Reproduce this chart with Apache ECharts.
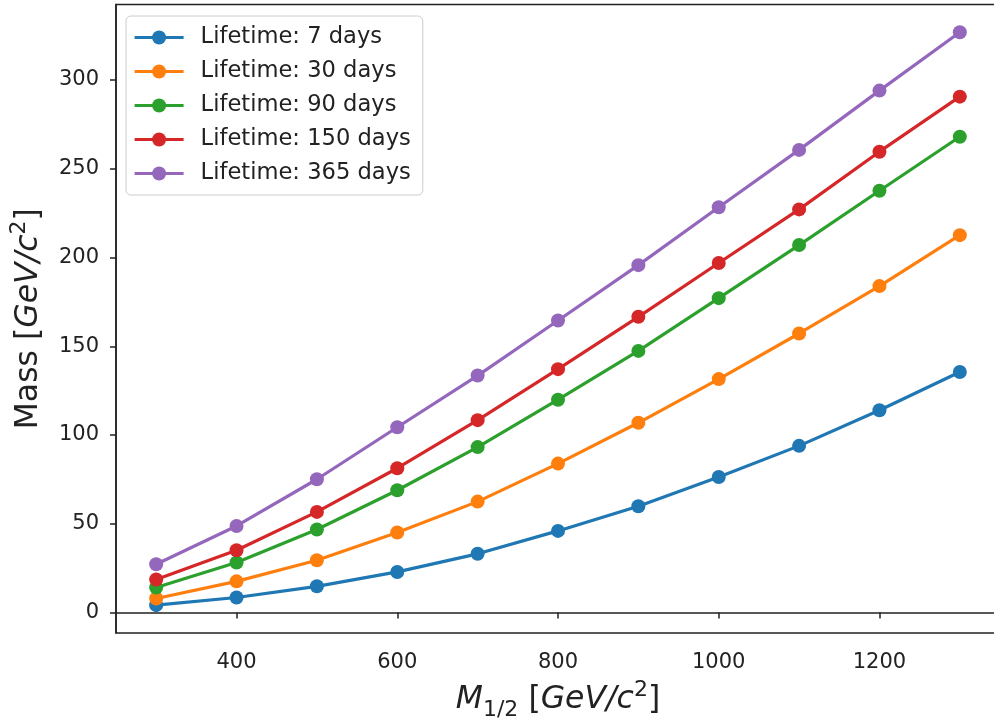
<!DOCTYPE html>
<html>
<head>
<meta charset="utf-8">
<script src="https://cdn.jsdelivr.net/npm/echarts@6/dist/echarts.min.js"></script>
<style>
  html, body { margin: 0; padding: 0; background: #fff; }
  #chart { width: 994px; height: 723px; }
</style>
</head>
<body>
<div id="chart"></div>
<script>
// Gaugino mass parameter M_1/2 (GeV/c^2)
const m12 = [300, 400, 500, 600, 700, 800, 900, 1000, 1100, 1200, 1300];

// Mass (GeV/c^2) for each lifetime
const days7   = [4.2, 8.5, 14.8, 22.9, 33.1, 46.0, 59.9, 76.4, 93.9, 114.0, 135.5];
const days30  = [7.9, 17.6, 29.5, 45.1, 62.5, 83.9, 106.9, 131.5, 157.2, 183.9, 212.6];
const days90  = [14.1, 28.2, 46.8, 68.9, 93.2, 119.9, 147.4, 177.1, 207.0, 237.6, 268.0];
const days150 = [18.6, 35.1, 56.7, 81.3, 108.4, 137.1, 166.6, 196.9, 227.1, 259.6, 290.6];
const days365 = [27.2, 48.8, 75.1, 104.4, 133.5, 164.5, 195.7, 228.3, 260.6, 294.0, 326.9];

const seriesNames = ['Lifetime: 7 days', 'Lifetime: 30 days', 'Lifetime: 90 days',
                     'Lifetime: 150 days', 'Lifetime: 365 days'];
const seriesValues = [days7, days30, days90, days150, days365];
const colors = ['#1f77b4', '#ff7f0e', '#2ca02c', '#d62728', '#9467bd'];

// Tick labels
const xTicks = [400, 600, 800, 1000, 1200];
const yTicks = [0, 50, 100, 150, 200, 250, 300];

const FONT = 'DejaVu Sans';
const INK = '#222';

const nameRich = {
  r:   { fontFamily: FONT, fontSize: 31.5, color: INK, lineHeight: 42, verticalAlign: 'middle' },
  i:   { fontFamily: FONT, fontSize: 31.5, fontStyle: 'italic', color: INK, lineHeight: 42, verticalAlign: 'middle' },
  sup: { fontFamily: FONT, fontSize: 22, color: INK, lineHeight: 23, verticalAlign: 'top' },
  sub: { fontFamily: FONT, fontSize: 22, color: INK, lineHeight: 23, verticalAlign: 'bottom' }
};

const chart = echarts.init(document.getElementById('chart'), null, { renderer: 'canvas' });

chart.setOption({
  animation: false,
  backgroundColor: '#fff',
  color: colors,
  grid: {
    left: 116, top: 4.5, width: 884, height: 628.5,
    outerBoundsMode: 'none',
    containLabel: false,
    show: true, borderColor: INK, borderWidth: 1.5, backgroundColor: 'transparent'
  },
  legend: {
    orient: 'vertical',
    left: 126, top: 16,
    padding: [10, 12, 10, 7],
    itemWidth: 49, itemHeight: 17.5, itemGap: 11,
    backgroundColor: 'rgba(255,255,255,0.8)',
    borderColor: '#cccccc', borderWidth: 1, borderRadius: 5,
    lineStyle: { width: 3.2 },
    textStyle: { fontFamily: FONT, fontSize: 22.6, color: INK, padding: [0, 0, 0, 12] },
    data: seriesNames
  },
  xAxis: {
    type: 'value',
    min: 250, max: 1350,
    name: '{i|M}{sub|1/2}{r| [}{i|GeV/c}{sup|2}{r|]}',
    nameLocation: 'middle', nameGap: 46,
    nameTextStyle: { rich: nameRich },
    axisLine: { show: true, lineStyle: { color: INK, width: 1.5 } },
    axisTick: { show: true, length: 6, lineStyle: { color: INK, width: 1.5 }, customValues: xTicks },
    axisLabel: { fontFamily: FONT, fontSize: 21, color: INK, margin: 19, customValues: xTicks,
                 formatter: v => String(v) },
    splitLine: { show: false }
  },
  yAxis: {
    type: 'value',
    min: -11.5, max: 342.5,
    name: '{r|Mass [}{i|GeV/c}{sup|2}{r|]}',
    nameLocation: 'middle', nameGap: 66,
    nameTextStyle: { rich: nameRich },
    axisLine: { show: true, lineStyle: { color: INK, width: 1.5 } },
    axisTick: { show: true, length: 6, lineStyle: { color: INK, width: 1.5 }, customValues: yTicks },
    axisLabel: { fontFamily: FONT, fontSize: 21, color: INK, margin: 17, customValues: yTicks,
                 formatter: v => String(v) },
    splitLine: { show: false }
  },
  series: seriesNames.map((name, k) => ({
    name: name,
    type: 'line',
    data: m12.map((x, j) => [x, seriesValues[k][j]]),
    symbol: 'circle',
    symbolSize: 14,
    showSymbol: true,
    lineStyle: { width: 3.2, color: colors[k] },
    itemStyle: { color: colors[k], borderWidth: 0 },
    emphasis: { disabled: true },
    z: 2 + k
  }))
});
</script>
</body>
</html>
